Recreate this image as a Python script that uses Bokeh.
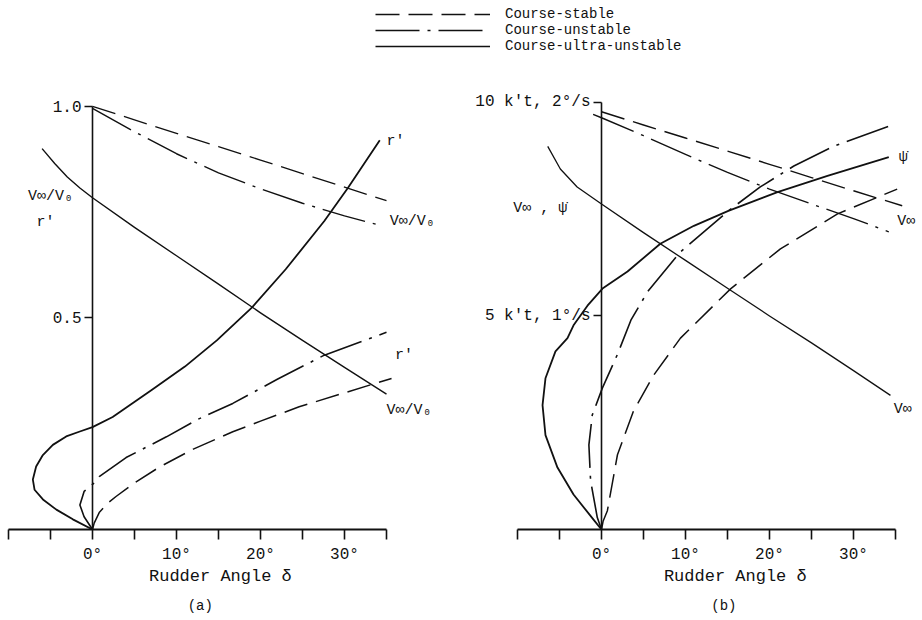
from bokeh.plotting import figure
from bokeh.models import (LinearAxis, FixedTicker, Range1d, Legend, LegendItem, Title)
from bokeh.layouts import column, row
from bokeh.embed import file_html
from bokeh.resources import INLINE
from bokeh.core.properties import value

FONT = "Liberation Mono"
INK = "#111111"
NB = "\u00a0"

# ---------------- data: panel (a)  (rudder angle in degrees) ----------------
a_vstab_delta = [0, 5, 10, 15, 20, 25, 30, 35]
a_vstab = [1.0, 0.968, 0.936, 0.905, 0.873, 0.841, 0.809, 0.777]

a_vunst_delta = [0, 5, 10, 15, 20, 25, 30, 34]
a_vunst = [0.995, 0.94, 0.888, 0.843, 0.805, 0.771, 0.741, 0.72]

a_vultra_delta = [-6.0, -4.5, -3.0, -1.5, 0, 5, 10, 15, 20, 25, 30, 35]
a_vultra = [0.90, 0.865, 0.833, 0.807, 0.784, 0.714, 0.647, 0.580, 0.512, 0.447, 0.383, 0.320]

a_rstab_delta = [0, 0.2, 0.8, 1.8, 2.8, 5, 8, 12, 16.7, 20, 24.6, 30, 35.6]
a_rstab = [0, 0.015, 0.04, 0.062, 0.078, 0.11, 0.148, 0.19, 0.231, 0.256, 0.29, 0.323, 0.357]

a_runst_delta = [0, -1.0, -1.5, -1.0, 0.2, 0.8, 4, 8.8, 12.5, 16.7, 22, 27.6, 35]
a_runst = [0, 0.03, 0.058, 0.09, 0.11, 0.125, 0.17, 0.219, 0.26, 0.298, 0.355, 0.412, 0.466]

a_rultra_delta = [0, -2.34, -4.3, -5.9, -6.9, -7.1, -6.71, -5.91, -4.72, -3.13, -1.59, 0,
                  2.4, 7, 11, 14.8, 19, 23, 27.6, 30.4, 34.2]
a_rultra = [0, 0.024, 0.047, 0.071, 0.094, 0.118, 0.149, 0.176, 0.200, 0.220, 0.231, 0.242,
            0.266, 0.329, 0.385, 0.447, 0.525, 0.615, 0.729, 0.807, 0.92]

# ---------------- data: panel (b)  (V_inf in k't, psi-dot scaled 5 k't = 1 deg/s) ----------------
b_vstab_delta = [0, 5, 10, 15, 20, 25, 30, 35.8]
b_vstab = [9.78, 9.47, 9.165, 8.86, 8.55, 8.24, 7.93, 7.58]

b_vunst_delta = [-1, 0, 5, 10, 15, 20, 25, 30, 34.2]
b_vunst = [9.72, 9.64, 9.22, 8.78, 8.36, 7.97, 7.62, 7.28, 6.97]

b_vultra_delta = [-6.4, -4.9, -2.9, 0, 5, 10, 15, 20, 25, 30, 34.4]
b_vultra = [8.97, 8.44, 8.02, 7.62, 6.95, 6.30, 5.65, 5.0, 4.37, 3.72, 3.14]

b_pstab_delta = [0, 0.2, 0.7, 1.9, 3.8, 6.2, 9.4, 15.4, 21.3, 28.1, 35.2]
b_pstab = [0, 0.2, 0.44, 1.75, 2.77, 3.61, 4.48, 5.64, 6.57, 7.39, 7.97]

b_punst_delta = [0, -0.5, -1.3, -1.5, -1.1, 0.1, 1.9, 3.5, 5.5, 9.4, 15.1, 18.9, 22.9, 27.6, 34.2]
b_punst = [0, 0.28, 1.14, 1.98, 2.68, 3.31, 4.1, 4.9, 5.57, 6.5, 7.46, 8.02, 8.51, 8.97, 9.44]

b_pultra_delta = [0, -0.95, -3.33, -5.24, -6.67, -7.02, -6.67, -5.48, -4.05, -3.33, -1.67, 0.12,
                  3.1, 7.0, 11.0, 15.1, 20.95, 26.9, 34.2]
b_pultra = [0, 0.23, 0.82, 1.45, 2.21, 2.91, 3.54, 4.17, 4.48, 4.78, 5.24, 5.64,
            6.04, 6.69, 7.11, 7.46, 7.90, 8.28, 8.72]

# ---------------- axis ticks / labels ----------------
x_major = [0, 10, 20, 30]
x_minor = [-10, -5, 5, 15, 25, 35]
x_tick_labels = ["0°", "10°", "20°", "30°"]
a_y_ticks = [0.5, 1.0]
a_y_tick_labels = ["0.5", "1.0"]
b_y_ticks = [5, 10]
b_y_tick_labels = ["5 k't, 1°/s", "10 k't, 2°/s"]

legend_labels = ["Course-stable", "Course-unstable", "Course-ultra-unstable"]

# curve annotations (text, delta, value)
a_left_text = ["V∞/V₀", "r'"]
a_left_x = [-5.0, -5.6]
a_left_y = [0.788, 0.725]
a_right_text = ["r'", "V∞/V₀", "r'", "V∞/V₀"]
a_right_x = [35.0, 35.4, 36.0, 35.0]
a_right_y = [0.918, 0.727, 0.412, 0.282]

b_left_text = ["V∞ , ψ̇"]
b_left_x = [-7.3]
b_left_y = [7.52]
b_right_text = ["ψ̇", "V∞", "V∞"]
b_right_x = [35.4, 35.2, 34.8]
b_right_y = [8.72, 7.2, 2.82]

STYLES = {
    "stable": dict(line_dash="24 9", line_width=1.5),
    "unstable": dict(line_dash="44 8 3 8", line_width=1.6),
    "ultra": dict(line_dash="solid", line_width=1.8),
}

PX_PER_DEG = 8.4


def panel(width, frame_left_px, frame_right_px, y_end, y_ticks, y_tick_labels,
          axis_label, tag):
    # frame spans the full left part of the figure so the in-frame y axis labels are visible
    x_start = -10 - frame_left_px / PX_PER_DEG
    x_end = x_start + (width - frame_right_px) / PX_PER_DEG
    p = figure(width=width, height=556, x_range=Range1d(x_start, x_end), y_range=Range1d(0, y_end),
               output_backend="svg", toolbar_location=None,
               x_axis_location=None, y_axis_location=None,
               min_border_left=0, min_border_right=frame_right_px,
               min_border_top=8, min_border_bottom=89)
    p.outline_line_color = None
    p.xgrid.visible = False
    p.ygrid.visible = False

    xa = LinearAxis(bounds=(-10, 35),
                    ticker=FixedTicker(ticks=x_major, minor_ticks=x_minor),
                    major_label_overrides={t: l for t, l in zip(x_major, x_tick_labels)},
                    major_tick_in=0, major_tick_out=10, minor_tick_in=0, minor_tick_out=10,
                    axis_line_width=2, axis_line_color=INK,
                    major_tick_line_width=1.6, minor_tick_line_width=1.6,
                    major_tick_line_color=INK, minor_tick_line_color=INK,
                    major_label_text_font=FONT, major_label_text_font_size="16px",
                    major_label_text_color=INK, major_label_standoff=6,
                    axis_label=axis_label, axis_label_text_font=FONT,
                    axis_label_text_font_size="17px", axis_label_text_font_style="normal",
                    axis_label_text_color=INK, axis_label_standoff=0)
    p.add_layout(xa, "below")

    ya = LinearAxis(fixed_location=0, bounds=(0, y_ticks[-1]),
                    ticker=FixedTicker(ticks=y_ticks, minor_ticks=[]),
                    major_label_overrides={t: l for t, l in zip(y_ticks, y_tick_labels)},
                    major_tick_in=0, major_tick_out=8, minor_tick_out=0,
                    axis_line_width=1.6, axis_line_color=INK,
                    major_tick_line_width=1.4, major_tick_line_color=INK,
                    major_label_text_font=FONT, major_label_text_font_size="16px",
                    major_label_text_color=INK, major_label_standoff=3)
    p.add_layout(ya, "left")

    p.add_layout(Title(text=tag, align="center", text_font=FONT, text_font_size="14px",
                       text_font_style="normal", text_color=INK, standoff=14), "below")
    return p


def curve(p, xs, ys, kind, width=None):
    st = dict(STYLES[kind])
    if width is not None:
        st["line_width"] = width
    return p.line(xs, ys, line_color=INK, line_join="round", line_cap="butt", **st)


def labels(p, xs, ys, texts, align):
    p.text(x=xs, y=ys, text=texts, text_font=value(FONT), text_font_size="15px",
           text_color=INK, text_align=align, text_baseline="middle")


# ---------------- panel (a) ----------------
pa = panel(466, 8, 16, 459 / 425, a_y_ticks, a_y_tick_labels,
           "Rudder Angle  δ", "(a)" + NB * 6)
curve(pa, a_vstab_delta, a_vstab, "stable", 1.3)
curve(pa, a_vunst_delta, a_vunst, "unstable", 1.4)
curve(pa, a_vultra_delta, a_vultra, "ultra", 1.4)
curve(pa, a_rstab_delta, a_rstab, "stable")
curve(pa, a_runst_delta, a_runst, "unstable")
curve(pa, a_rultra_delta, a_rultra, "ultra")
labels(pa, a_left_x, a_left_y, a_left_text, "center")
labels(pa, a_right_x, a_right_y, a_right_text, "left")

# ---------------- panel (b) ----------------
pb = panel(456, 51, 0, 459 / 42.9, b_y_ticks, b_y_tick_labels,
           NB * 9 + "Rudder Angle  δ", NB * 7 + "(b)")
curve(pb, b_vstab_delta, b_vstab, "stable", 1.4)
curve(pb, b_vunst_delta, b_vunst, "unstable", 1.4)
curve(pb, b_vultra_delta, b_vultra, "ultra", 1.3)
curve(pb, b_pstab_delta, b_pstab, "stable")
curve(pb, b_punst_delta, b_punst, "unstable")
curve(pb, b_pultra_delta, b_pultra, "ultra")
labels(pb, b_left_x, b_left_y, b_left_text, "center")
labels(pb, b_right_x, b_right_y, b_right_text, "left")

# ---------------- legend strip ----------------
strip = figure(width=922, height=64, output_backend="svg", toolbar_location=None,
               x_axis_location=None, y_axis_location=None,
               min_border_left=0, min_border_right=0, min_border_top=0, min_border_bottom=0,
               x_range=Range1d(0, 1), y_range=Range1d(0, 1))
strip.outline_line_color = None
strip.xgrid.visible = False
strip.ygrid.visible = False
items = []
nan = float("nan")
for lab, kind in zip(legend_labels, ["stable", "unstable", "ultra"]):
    st = dict(STYLES[kind])
    st["line_width"] = 1.3
    r = strip.line([nan, nan], [nan, nan], line_color=INK, **st)
    items.append(LegendItem(label=lab, renderers=[r]))
leg = Legend(items=items, location=(375, 10), glyph_width=115, glyph_height=14,
             label_height=14, label_standoff=15, spacing=-4, padding=0, margin=0,
             border_line_color=None, background_fill_alpha=0,
             label_text_font=FONT, label_text_font_size="14px", label_text_color=INK)
strip.add_layout(leg, "center")

layout = column(strip, row(pa, pb))
open("out.html", "w").write(file_html(layout, INLINE))
